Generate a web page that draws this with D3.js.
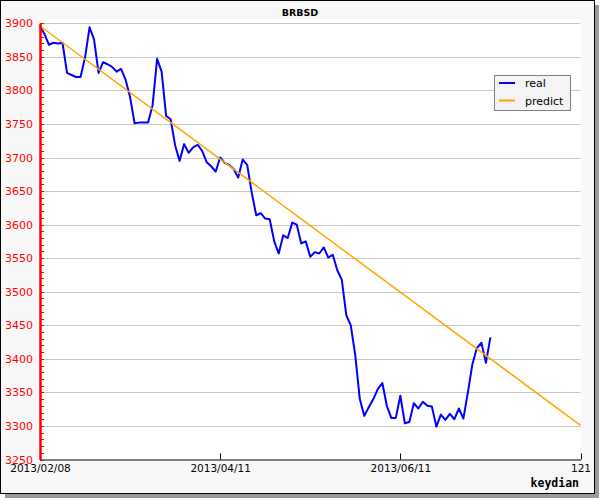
<!DOCTYPE html>
<html>
<head>
<meta charset="utf-8">
<script src="https://cdn.jsdelivr.net/npm/d3@7"></script>
<style>
  html, body { margin: 0; padding: 0; background: #ffffff; }
  svg { display: block; }
</style>
</head>
<body>
<svg id="chart" width="600" height="500"></svg>
<script>
// ---- data ----
const chartTitle = "BRBSD";
const seriesNames = ["real", "predict"];
const realValues = [
  3895, 3884, 3868, 3871, 3870, 3871, 3826, 3823, 3820, 3820,
  3849, 3894, 3876, 3826, 3842, 3839, 3835, 3828, 3832, 3816,
  3790, 3751, 3752, 3752, 3752, 3778, 3847, 3828, 3762, 3757,
  3718, 3695, 3720, 3707, 3715, 3719, 3710, 3693, 3687, 3679,
  3700, 3692, 3689, 3683, 3670, 3697, 3689, 3648, 3614, 3617,
  3609, 3608, 3575, 3557, 3584, 3580, 3603, 3600, 3572, 3575,
  3552, 3559, 3557, 3566, 3551, 3555, 3532, 3518, 3465, 3450,
  3405, 3340, 3315, 3328, 3340, 3355, 3364, 3330, 3312, 3312,
  3345, 3304, 3306, 3334, 3326, 3336, 3330, 3329, 3299, 3317,
  3309, 3318, 3310, 3326, 3311, 3350, 3392, 3416, 3424, 3394,
  3432
];
const predictIndex = [0, 120];
const predictValues = [3896, 3301];
const xTickValues = [0, 40, 80, 120];
const xTickLabels = ["2013/02/08", "2013/04/11", "2013/06/11", "121"];
const yDomain = [3250, 3900];
const xDomain = [0, 120];
const xAxisTitle = "keydian";

// ---- layout ----
const svg = d3.select("#chart");
const pL = 40, pR = 580.5, pT = 23.3, pB = 459.5;

const x = d3.scaleLinear().domain(xDomain).range([pL, pR]);
const y = d3.scaleLinear().domain(yDomain).range([pB, pT]);

// shadow + panel
svg.append("rect").attr("x", 5).attr("y", 5).attr("width", 594).attr("height", 493)
  .attr("fill", "#9a9a9a");
svg.append("rect").attr("x", 0.5).attr("y", 0.5).attr("width", 594).attr("height", 493)
  .attr("fill", "#f8f8f8").attr("stroke", "#000").attr("stroke-width", 1);

// plot area
svg.append("rect").attr("x", pL).attr("y", 19).attr("width", pR - pL).attr("height", pB - 19)
  .attr("fill", "#ffffff");

// gridlines
const yMajor = d3.range(yDomain[0], yDomain[1] + 1, 50);
svg.append("g").selectAll("line").data(yMajor.filter(v => v > yDomain[0])).join("line")
  .attr("x1", pL).attr("x2", pR)
  .attr("y1", d => Math.round(y(d)) + 0.5).attr("y2", d => Math.round(y(d)) + 0.5)
  .attr("stroke", "#c8c8c8").attr("stroke-width", 1);

// title
svg.append("text").attr("x", 300).attr("y", 16).attr("text-anchor", "middle")
  .attr("font-family", "DejaVu Sans").attr("font-weight", "bold").attr("font-size", 9.5)
  .attr("fill", "#000").text(chartTitle);

// series
const realLine = d3.line().x((d, i) => x(i)).y(d => y(d));
svg.append("path").datum(realValues).attr("d", realLine)
  .attr("fill", "none").attr("stroke", "#0000ff").attr("stroke-width", 2).attr("stroke-linejoin", "round");

const predLine = d3.line().x(d => x(d[0])).y(d => y(d[1]));
svg.append("path").datum(predictIndex.map((p, i) => [p, predictValues[i]])).attr("d", predLine)
  .attr("fill", "none").attr("stroke", "#ffa500").attr("stroke-width", 1.5);

// x axis
const xAxis = d3.axisBottom(x).tickValues(xTickValues).tickSize(0)
  .tickFormat((d, i) => xTickLabels[i]);
const gx = svg.append("g").attr("transform", `translate(0,${pB})`).call(xAxis);
gx.select(".domain").attr("stroke", "#000").attr("stroke-width", 1.2);
gx.selectAll("text").attr("font-family", "DejaVu Sans").attr("font-size", 10.5)
  .attr("fill", "#000").attr("dy", null).attr("y", 12.5);
svg.append("g").selectAll("line").data(xTickValues.filter(v => v > 0)).join("line")
  .attr("x1", d => Math.round(x(d)) + 0.5).attr("x2", d => Math.round(x(d)) + 0.5)
  .attr("y1", pB).attr("y2", pB - 6).attr("stroke", "#000").attr("stroke-width", 1);

svg.append("text").attr("x", 579).attr("y", 487).attr("text-anchor", "end")
  .attr("font-family", "DejaVu Sans Mono").attr("font-weight", "bold").attr("font-size", 11.5)
  .attr("fill", "#000").text(xAxisTitle);

// y axis (red)
const yAxis = d3.axisLeft(y).tickValues(yMajor).tickSize(0).tickPadding(7).tickFormat(d3.format("d"));
const gy = svg.append("g").attr("transform", `translate(${pL},0)`).call(yAxis);
gy.select(".domain").attr("stroke", "#ff0000").attr("stroke-width", 2.5);
gy.selectAll("text").attr("font-family", "DejaVu Sans").attr("font-size", 11).attr("fill", "#ff0000");
const yMinor = d3.range(yDomain[0], yDomain[1] + 1, 10);
svg.append("g").selectAll("line").data(yMinor).join("line")
  .attr("x1", pL).attr("x2", pL + 4)
  .attr("y1", d => Math.round(y(d)) + 0.5).attr("y2", d => Math.round(y(d)) + 0.5)
  .attr("stroke", "#ff0000").attr("stroke-width", 1);

// legend
const lg = svg.append("g");
lg.append("rect").attr("x", 494.5).attr("y", 75.5).attr("width", 76).attr("height", 35)
  .attr("fill", "#f4f4f4").attr("stroke", "#808080").attr("stroke-width", 1);
const legendColors = ["#0000ff", "#ffa500"];
seriesNames.forEach((name, i) => {
  const cy = 83 + i * 17.5;
  lg.append("line").attr("x1", 499).attr("x2", 515).attr("y1", cy).attr("y2", cy)
    .attr("stroke", legendColors[i]).attr("stroke-width", 2);
  lg.append("text").attr("x", 525).attr("y", cy + 4)
    .attr("font-family", "DejaVu Sans").attr("font-size", 11).attr("fill", "#000").text(name);
});
</script>
</body>
</html>
